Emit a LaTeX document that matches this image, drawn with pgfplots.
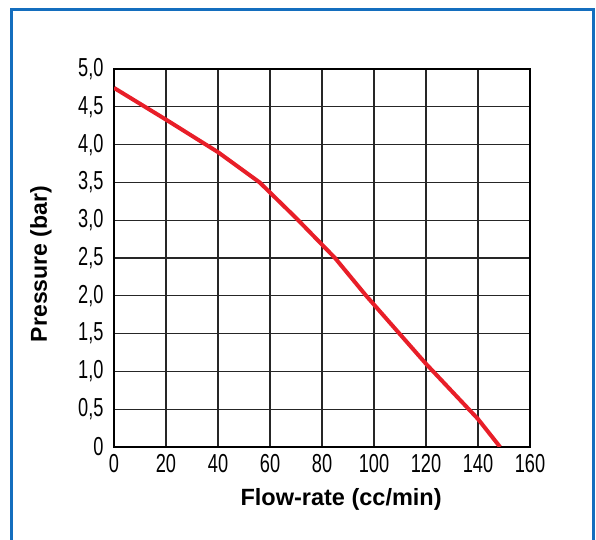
\documentclass[border=0pt]{standalone}
\usepackage{pgfplots}
\pgfplotsset{compat=1.18}
\usepackage{fontspec}
\setmainfont{Liberation Sans}
\newfontfamily\tickfont[FakeStretch=0.7]{Liberation Sans}
\definecolor{frameblue}{RGB}{20,110,190}
\definecolor{curvered}{RGB}{232,30,40}
\begin{document}
\begin{tikzpicture}[x=1bp,y=1bp]
\fill[white] (0,0) rectangle (596,540);
\useasboundingbox (0,0) rectangle (596,540);
\begin{scope}
\clip (0,0) rectangle (596,540);
\draw[frameblue, line width=3bp] (11,-20) rectangle (593,530);
\end{scope}
\begin{axis}[at={(114bp,93bp)}, anchor=south west,
  width=416bp, height=378bp, scale only axis,
  xmin=0, xmax=160, ymin=0, ymax=5,
  xtick={0,20,40,60,80,100,120,140,160},
  xticklabels={0,20,40,60,80,100,120,140,160},
  ytick={0,0.5,1,1.5,2,2.5,3,3.5,4,4.5,5},
  yticklabels={0,{0,5},{1,0},{1,5},{2,0},{2,5},{3,0},{3,5},{4,0},{4,5},{5,0}},
  grid=major,
  major grid style={black!85, line width=1.1bp},
  axis line style={line width=2.5bp, black},
  major tick length=0pt,
  tick style={draw=none},
  tick label style={font=\tickfont\fontsize{26bp}{26bp}\selectfont},
  xticklabel style={yshift=-4bp},
  yticklabel style={xshift=-7bp},
  xlabel={Flow-rate (cc/min)},
  ylabel={Pressure (bar)},
  xlabel style={font=\bfseries\fontsize{23.5bp}{23.5bp}\selectfont, at={(axis description cs:0.546,-0.140)}, anchor=center},
  ylabel style={font=\bfseries\fontsize{23bp}{23bp}\selectfont, at={(axis description cs:-0.1755,0.484)}, anchor=center, rotate=0},
]
\addplot[curvered, line width=4bp, line join=round] coordinates {
  (0,4.75) (20,4.33) (40,3.9) (56,3.5) (70,3.03) (85,2.5) (97,2.0) (120,1.1) (140,0.37) (148.5,0)
};
\end{axis}
\end{tikzpicture}
\end{document}
